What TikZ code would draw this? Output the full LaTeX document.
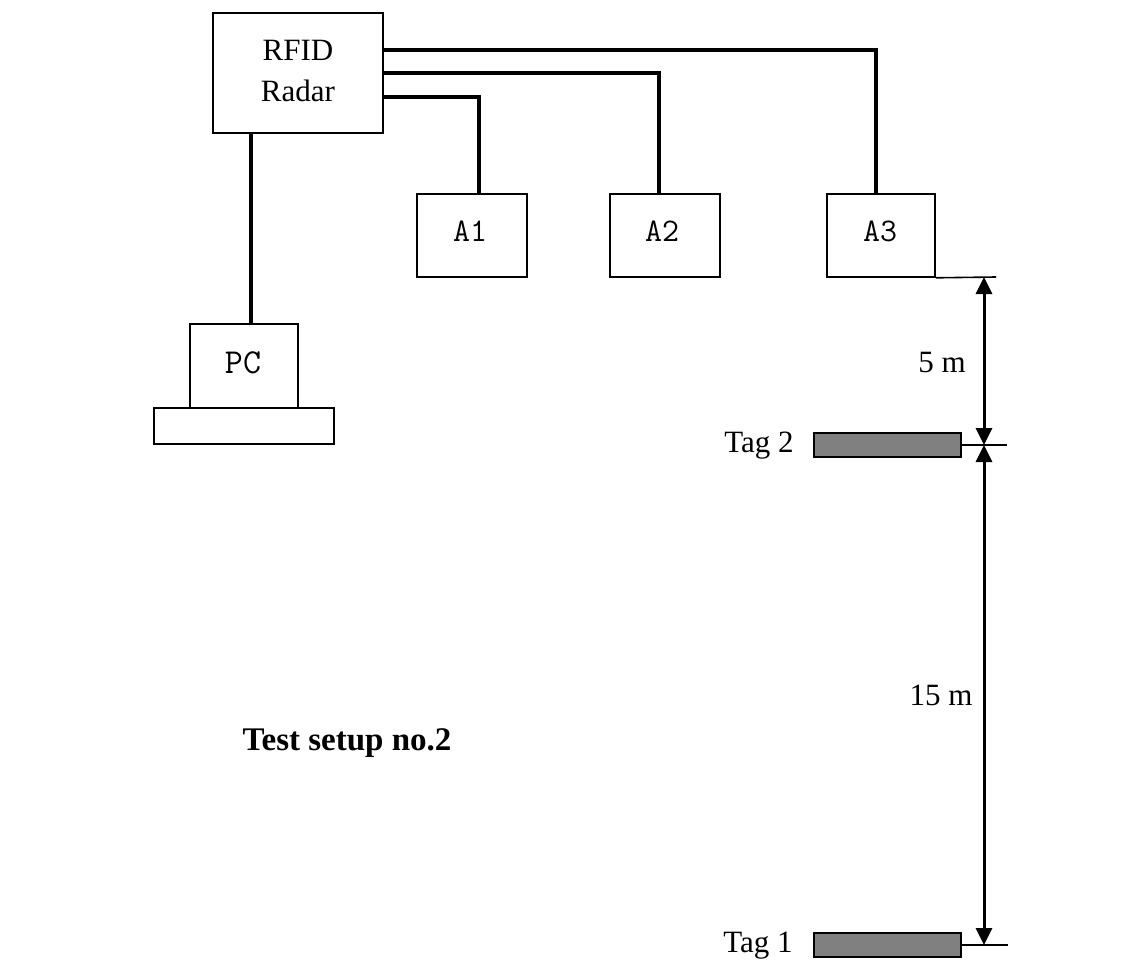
\documentclass[tikz,border=0pt]{standalone}
\usepackage{fontspec}
\setmainfont{Liberation Serif}
\usetikzlibrary{arrows.meta}
\tikzset{
  box/.style={draw=black, line width=1.6pt, fill=white, inner sep=0pt},
  conn/.style={draw=black, line width=4pt},
  dim/.style={draw=black, line width=3pt, {Triangle[length=17pt,width=16pt]}-{Triangle[length=17pt,width=16pt]}},
  tick/.style={draw=black, line width=1.6pt},
  tagbox/.style={draw=black, line width=1.6pt, fill=black!50, inner sep=0pt, minimum width=147pt, minimum height=24pt},
  lbl/.style={font=\fontsize{31}{36}\selectfont, inner sep=0pt},
  mlbl/.style={font=\fontsize{33}{38}\selectfont\ttfamily, inner sep=0pt}
}
\begin{document}
\begin{tikzpicture}[x=1pt,y=-1pt]
\useasboundingbox (0,0) rectangle (1145,960);
% boxes
\node[box, minimum width=170pt, minimum height=120pt] (rfid) at (298,73) {};
\node[lbl] (rfidt1) at (298,50) {RFID};
\node[lbl] (rfidt2) at (298,91) {Radar};
\node[box, minimum width=110pt, minimum height=83pt] (a1) at (472,235.5) {};
\node[box, minimum width=110pt, minimum height=83pt] (a2) at (665,235.5) {};
\node[box, minimum width=108pt, minimum height=83pt] (a3) at (881,235.5) {};
\node[mlbl] (a1t) at (470,231) {A1};
\node[mlbl] (a2t) at (662,231) {A2};
\node[mlbl] (a3t) at (880,231) {A3};
\node[box, minimum width=180pt, minimum height=36pt] (base) at (244,426) {};
\node[box, minimum width=108pt, minimum height=84pt] (pc) at (244,366) {};
\node[mlbl, font=\fontsize{35}{40}\selectfont\ttfamily] (pct) at (243,363) {PC};
% connectors
\draw[conn] ([yshift=23pt]rfid.east) -| ([xshift=-5pt]a3.north);
\draw[conn] (rfid.east) -| ([xshift=-6pt]a2.north);
\draw[conn] ([yshift=-24pt]rfid.east) -| ([xshift=7pt]a1.north);
\draw[conn] ([xshift=7pt]pc.north) -- ([xshift=7pt]pc.north |- rfid.south);
% tags
\node[tagbox] (tag2) at (887.5,445) {};
\node[tagbox] (tag1) at (887.5,945) {};
\node[lbl] (tag2t) at (759,446) {Tag 2};
\node[lbl] (tag1t) at (758,946) {Tag 1};
% dimension lines
\coordinate (d0) at (984,277);
\coordinate (d1) at (984,445);
\coordinate (d2) at (984,945);
\coordinate (e0) at (996,277);
\coordinate (e1) at (1007,445);
\coordinate (e2) at (1008,945);
\draw[tick] (a3.south east) -- (e0);
\draw[tick] (tag2.east) -- (e1);
\draw[tick] (tag1.east) -- (e2);
\draw[dim] (d0) -- (d1);
\draw[dim] (d1) -- (d2);
\node[lbl] (five) at (942,362) {5 m};
\node[lbl] (fifteen) at (941,695) {15 m};
\node[lbl, font=\fontsize{33}{38}\selectfont\bfseries] (title) at (347,743) {Test setup no.2};
\end{tikzpicture}
\end{document}
